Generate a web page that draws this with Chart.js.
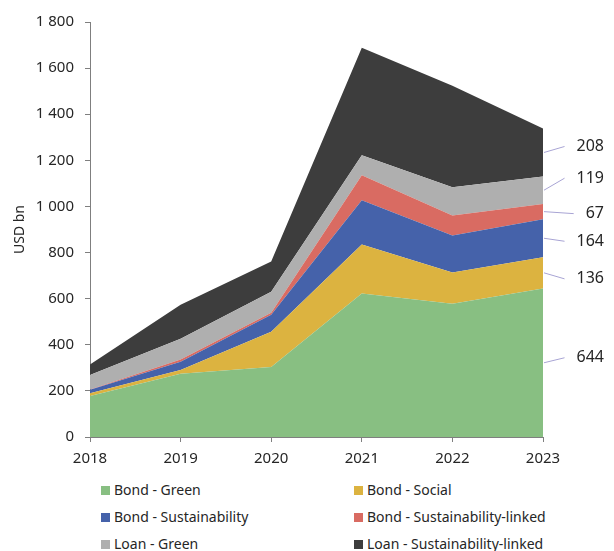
<!DOCTYPE html>
<html>
<head>
<meta charset="utf-8">
<script src="https://cdn.jsdelivr.net/npm/chart.js@4/dist/chart.umd.min.js"></script>
<style>
  body { margin: 0; background: #fff; font-family: "Noto Sans", sans-serif; }
  #wrap { position: relative; width: 614px; height: 551px; }
  #legend { position: absolute; left: 0; top: 478px; width: 614px; }
  .item { position: absolute; font-size: 14px; color: #262626; white-space: nowrap; line-height: 24px; }
  .item span { display: inline-block; width: 9px; height: 9px; margin-right: 4px; vertical-align: 0px; }
</style>
</head>
<body>
<div id="wrap">
  <canvas id="myChart" width="614" height="470"></canvas>
  <div id="legend"></div>
</div>
<script>
var years = ["2018", "2019", "2020", "2021", "2022", "2023"];
var seriesNames = ["Bond - Green", "Bond - Social", "Bond - Sustainability",
    "Bond - Sustainability-linked", "Loan - Green", "Loan - Sustainability-linked"];
var bondGreen = [178, 274, 304, 622, 578, 644];
var bondSocial = [12, 17, 153, 213, 135, 136];
var bondSustainability = [15, 35, 73, 192, 161, 164];
var bondSustainabilityLinked = [1, 10, 9, 108, 87, 67];
var loanGreen = [63, 90, 91, 87, 122, 119];
var loanSustainabilityLinked = [45, 148, 131, 466, 440, 208];
var yTicks = [0, 200, 400, 600, 800, 1000, 1200, 1400, 1600, 1800];

var colors = ["#88bf82", "#dcb340", "#4562aa", "#d96b62", "#afafaf", "#3d3d3d"];
var allSeries = [bondGreen, bondSocial, bondSustainability, bondSustainabilityLinked, loanGreen, loanSustainabilityLinked];

var datasets = allSeries.map(function (vals, i) {
    return {
        label: seriesNames[i],
        data: vals,
        backgroundColor: colors[i],
        borderColor: colors[i],
        borderWidth: 0,
        pointRadius: 0,
        fill: i === 0 ? "origin" : "-1",
        tension: 0
    };
});

// end labels with leader lines on the right
var labelOffsets = [-5, 6, 3, 2, -12, -6];
var endLabels = {
    id: "endLabels",
    afterDatasetsDraw: function (chart) {
        var ctx = chart.ctx;
        var area = chart.chartArea;
        var yScale = chart.scales.y;
        var last = years.length - 1;
        ctx.save();
        ctx.font = "16px 'Noto Sans'";
        ctx.textAlign = "right";
        ctx.textBaseline = "middle";
        var prevY = yScale.getPixelForValue(0);
        chart.data.datasets.forEach(function (ds, i) {
            var top = chart.getDatasetMeta(i).data[last].y;
            var mid = (top + prevY) / 2;
            prevY = top;
            var ly = mid + labelOffsets[i];
            var txt = String(ds.data[last]);
            var textRight = 604;
            var textLeft = textRight - ctx.measureText(txt).width;
            ctx.strokeStyle = "#a8a4d4";
            ctx.lineWidth = 1;
            ctx.beginPath();
            ctx.moveTo(area.right + 1, mid);
            ctx.lineTo(textLeft - 12, ly);
            ctx.stroke();
            ctx.fillStyle = "#262626";
            ctx.fillText(txt, textRight, ly);
        });
        ctx.restore();
    }
};

var axisColor = "#7f7f7f";
var ctx = document.getElementById("myChart").getContext("2d");
var chart = new Chart(ctx, {
    type: "line",
    data: { labels: years, datasets: datasets },
    options: {
        responsive: false,
        animation: { duration: 0 },
        layout: { padding: { top: 22, right: 71, bottom: 0, left: 0 } },
        plugins: { legend: { display: false }, tooltip: { enabled: false } },
        scales: {
            x: {
                offset: false,
                grid: { display: true, drawOnChartArea: false, drawTicks: true, tickLength: 5, color: axisColor },
                border: { display: true, color: axisColor },
                ticks: { color: "#262626", font: { family: "Noto Sans", size: 15 }, padding: 8, maxRotation: 0 },
                afterFit: function (scale) { scale.height = 33; }
            },
            y: {
                stacked: true,
                min: 0,
                max: 1800,
                afterBuildTicks: function (scale) {
                    scale.ticks = yTicks.map(function (v) { return { value: v }; });
                },
                grid: { display: true, drawOnChartArea: false, drawTicks: true, tickLength: 5, color: axisColor },
                border: { display: true, color: axisColor },
                ticks: {
                    color: "#262626",
                    font: { family: "Noto Sans", size: 15 },
                    padding: 11,
                    callback: function (v) {
                        return String(v).replace(/\B(?=(\d{3})+(?!\d))/g, " ");
                    }
                },
                title: {
                    display: true,
                    text: "USD bn",
                    color: "#262626",
                    font: { family: "Noto Sans", size: 14 },
                    padding: { top: 12, bottom: 0 }
                },
                afterFit: function (scale) { scale.width = 90; }
            }
        }
    },
    plugins: [endLabels]
});

// two-column legend
var legendPos = [[101, 0], [354, 0], [101, 27], [354, 27], [101, 54], [354, 54]];
var legend = document.getElementById("legend");
seriesNames.forEach(function (name, i) {
    var d = document.createElement("div");
    d.className = "item";
    d.style.left = legendPos[i][0] + "px";
    d.style.top = legendPos[i][1] + "px";
    d.innerHTML = '<span style="background:' + colors[i] + '"></span>' + name;
    legend.appendChild(d);
});
</script>
</body>
</html>
